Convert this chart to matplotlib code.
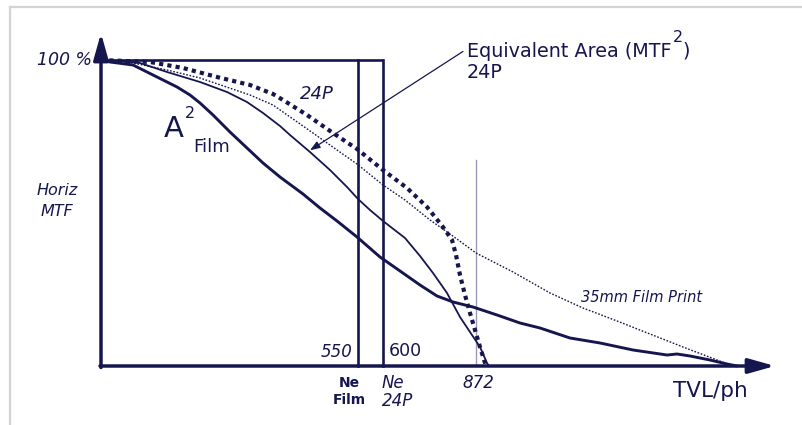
import matplotlib
matplotlib.use("Agg")
import matplotlib.pyplot as plt
from matplotlib.lines import Line2D

NAVY = "#16164f"

# ---- data (schematic units: x = position along the TVL/ph axis, y = horizontal MTF in %) ----
film_a2_x = [0, 9, 32, 52, 76, 89, 99, 112, 129, 146, 162, 179, 202, 219, 236, 256, 279, 299, 319,
             336, 352, 372, 396, 419, 439, 469, 499, 532, 566, 576, 589, 609, 626, 636]
film_a2_y = [100, 99.35, 98.37, 95.10, 91.18, 88.56, 85.95, 82.03, 76.47, 71.24, 66.34, 61.76, 56.21,
             51.63, 47.39, 42.16, 35.62, 31.05, 26.47, 22.88, 20.92, 19.28, 16.67, 14.05, 12.42, 9.15,
             7.52, 5.23, 3.59, 3.92, 3.27, 1.96, 0.65, 0]

eq24p_x = [0, 19, 39, 66, 99, 126, 146, 162, 179, 189, 209, 229, 246, 257, 269, 282, 304, 319, 332,
           346, 359, 371, 379, 386, 388]
eq24p_y = [100, 99.67, 99.02, 96.08, 92.81, 89.54, 86.27, 82.68, 78.43, 75.49, 69.93, 64.05, 58.50,
           54.58, 50.98, 47.39, 41.83, 35.95, 30.39, 23.86, 16.01, 10.13, 6.21, 0.98, 0]

p24_x = [0, 49, 82, 116, 149, 172, 182, 206, 232, 256, 282, 306, 326, 342, 351, 355, 359, 364, 369,
         374, 379, 384, 385]
p24_y = [100, 99.35, 97.39, 94.44, 91.83, 88.89, 86.93, 82.03, 76.14, 70.92, 64.05, 58.17, 51.96,
         45.42, 41.18, 36.27, 29.74, 23.20, 17.32, 11.76, 6.21, 0.98, 0]

print35_x = [0, 32, 66, 99, 149, 172, 202, 236, 256, 282, 304, 329, 349, 375, 412, 449, 482, 516,
             549, 582, 616, 632]
print35_y = [100, 99.02, 96.73, 94.12, 88.56, 85.29, 78.43, 70.59, 66.01, 59.15, 54.25, 47.71, 43.14,
             36.93, 30.72, 23.86, 18.95, 14.71, 10.46, 6.21, 1.96, 0]

ne_film_x = 257      # "550"
ne_24p_x = 282       # "600"
limit_x = 375        # "872"
limit_top = 67.3
ne_labels = ["550", "600", "872"]

# ---- figure ----
fig = plt.figure(figsize=(8.03, 4.25), dpi=100)
ax = fig.add_axes([0, 0, 1, 1])
ax.set_xlim(-101, 702)
ax.set_ylim(-(425 - 366) / 3.06, 366 / 3.06)
ax.axis("off")

# gray screenshot border (top and left)
fig.add_artist(Line2D([10 / 803, 1], [1 - 7 / 425, 1 - 7 / 425], transform=fig.transFigure,
                      color="#d4d4d4", lw=1.6))
fig.add_artist(Line2D([10 / 803, 10 / 803], [0, 1 - 7 / 425], transform=fig.transFigure,
                      color="#d4d4d4", lw=1.6))

# axes with arrows
arrow_kw = dict(arrowstyle="-|>,head_length=1.6,head_width=0.45", lw=2.5, color=NAVY,
                shrinkA=0, shrinkB=0, mutation_scale=10)
ax.annotate("", xy=(674, 0), xytext=(-1, 0), arrowprops=arrow_kw)
ax.annotate("", xy=(0, 108.8), xytext=(0, -0.5), arrowprops=arrow_kw)

# Nyquist-equivalent rectangles
ax.plot([0, ne_24p_x], [100, 100], color=NAVY, lw=1.9, solid_capstyle="butt")
ax.plot([ne_film_x, ne_film_x], [0, 100], color=NAVY, lw=1.9)
ax.plot([ne_24p_x, ne_24p_x], [0, 100], color=NAVY, lw=1.9)
ax.plot([limit_x, limit_x], [0, limit_top], color="#9a9ab8", lw=1.0)

# curves
ax.plot(print35_x, print35_y, color=NAVY, lw=1.0, linestyle=(0, (1.2, 1.2)))
ax.plot(film_a2_x, film_a2_y, color=NAVY, lw=2.1, solid_joinstyle="round", solid_capstyle="round")
ax.plot(eq24p_x, eq24p_y, color=NAVY, lw=1.3, solid_joinstyle="round")
ax.plot(p24_x, p24_y, color=NAVY, lw=3.0, linestyle=(0, (1.0, 1.0)))

# annotation arrow for Equivalent Area
ax.annotate("", xy=(209, 70.5), xytext=(362, 102.8),
            arrowprops=dict(arrowstyle="-|>,head_length=0.6,head_width=0.22", lw=0.9,
                            color=NAVY, shrinkA=0, shrinkB=0, mutation_scale=10))

# texts
tkw = dict(color=NAVY)
ax.text(-9, 100, "100 %", ha="right", va="center", fontsize=12.5, style="italic", **tkw)
ax.text(-44, 57.5, "Horiz", ha="center", va="center", fontsize=11.5, style="italic", **tkw)
ax.text(-44, 50.5, "MTF", ha="center", va="center", fontsize=11.5, style="italic", **tkw)
ax.text(216, 88.9, "24P", ha="center", va="center", fontsize=13, style="italic", **tkw)
ax.text(73, 77.5, "A", ha="center", va="center", fontsize=21, **tkw)
ax.text(89, 82.5, "2", ha="center", va="center", fontsize=11.5, **tkw)
ax.text(111, 71.5, "Film", ha="center", va="center", fontsize=13, **tkw)

eq = ax.text(366, 102.8, "Equivalent Area (MTF", ha="left", va="center", fontsize=13.8, **tkw)
ax.text(366, 96.0, "24P", ha="left", va="center", fontsize=13.8, **tkw)
fig.canvas.draw()
r = fig.canvas.get_renderer()
bb = eq.get_window_extent(r).transformed(ax.transData.inverted())
ax.text(bb.x1 + 1, 107.5, "2", ha="left", va="center", fontsize=11.5, **tkw)
ax.text(bb.x1 + 11, 102.8, ")", ha="left", va="center", fontsize=13.8, **tkw)

ax.text(ne_film_x - 5, 4.5, ne_labels[0], ha="right", va="center", fontsize=12, style="italic", **tkw)
ax.text(ne_24p_x + 6, 4.8, ne_labels[1], ha="left", va="center", fontsize=12.5, **tkw)
ax.text(limit_x + 2, -5.6, ne_labels[2], ha="center", va="center", fontsize=12, style="italic", **tkw)
ax.text(ne_film_x - 9, -5.5, "Ne", ha="center", va="center", fontsize=10, weight="bold", **tkw)
ax.text(ne_film_x - 9, -11.0, "Film", ha="center", va="center", fontsize=10, weight="bold", **tkw)
ax.text(ne_24p_x - 1, -5.5, "Ne", ha="left", va="center", fontsize=12, style="italic", **tkw)
ax.text(ne_24p_x - 1, -11.4, "24P", ha="left", va="center", fontsize=12, style="italic", **tkw)
ax.text(647, -8.2, "TVL/ph", ha="right", va="center", fontsize=15.5, **tkw)
ax.text(541, 22.5, "35mm Film Print", ha="center", va="center", fontsize=10.5, style="italic", **tkw)

fig.savefig("out.png", dpi=100)
